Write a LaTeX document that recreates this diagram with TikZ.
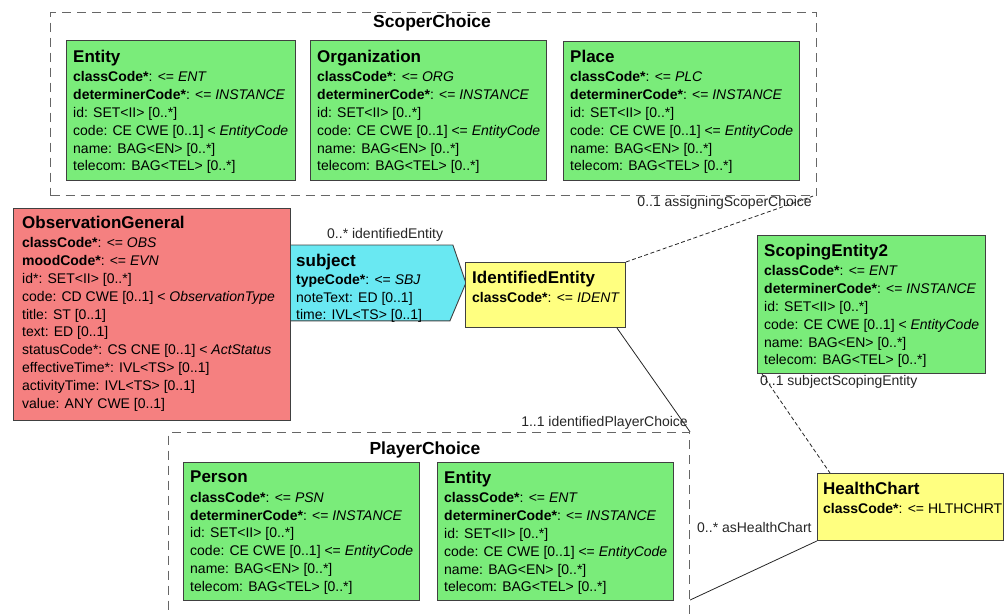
\documentclass[tikz,border=0pt]{standalone}
\usepackage{fontspec}
\setmainfont{Liberation Sans}
\usetikzlibrary{calc}
\definecolor{rimgreen}{RGB}{122,236,122}
\definecolor{rimred}{RGB}{245,128,128}
\definecolor{rimcyan}{RGB}{105,232,242}
\definecolor{rimyellow}{RGB}{255,255,128}
\newcommand{\clsname}{\fontsize{17}{20}\selectfont\bfseries}

\begin{document}
\begin{tikzpicture}[
  x=1pt, y=-1pt,
  clsbox/.style={draw=black!75, line width=0.9pt, anchor=north west, inner sep=0pt},
  entitybox/.style={clsbox, fill=rimgreen},
  actbox/.style={clsbox, fill=rimred},
  rolebox/.style={clsbox, fill=rimyellow},
  attrs/.style={anchor=north west, inner sep=0pt, align=left,
    font=\fontsize{14}{17.8}\selectfont},
  choice/.style={draw=black!60, line width=1.1pt, dash pattern=on 9pt off 6pt,
    anchor=north west, inner sep=0pt},
  choicetitle/.style={font=\fontsize{17.5}{20}\selectfont\bfseries},
  rolename/.style={font=\fontsize{14}{17}\selectfont, inner sep=0pt, text=black!85},
  assoc/.style={draw=black!85, line width=0.8pt},
  assocdash/.style={assoc, dash pattern=on 4pt off 2.5pt},
]
\useasboundingbox (0,0) rectangle (1008,613);

%% ---- ScoperChoice ----
\node[choice, minimum width=766pt, minimum height=183pt] (scoper) at (50,12) {};
\node[choicetitle] (scopertitle) at (432,23) {ScoperChoice};

\node[entitybox, minimum width=229pt, minimum height=140pt] (sentity) at (66,40) {};
\node[attrs] (sentity-t) at ($(sentity.north west)+(7,10)$) {%
  {\clsname Entity}\\[1.5pt]
  \textbf{classCode*}: <= \textit{ENT}\\
  \textbf{determinerCode*}: <= \textit{INSTANCE}\\
  id: SET<II> [0..*]\\
  code: CE CWE [0..1] < \textit{EntityCode}\\
  name: BAG<EN> [0..*]\\
  telecom: BAG<TEL> [0..*]};

\node[entitybox, minimum width=236pt, minimum height=140pt] (sorg) at (310,40) {};
\node[attrs] (sorg-t) at ($(sorg.north west)+(7,10)$) {%
  {\clsname Organization}\\[1.5pt]
  \textbf{classCode*}: <= \textit{ORG}\\
  \textbf{determinerCode*}: <= \textit{INSTANCE}\\
  id: SET<II> [0..*]\\
  code: CE CWE [0..1] <= \textit{EntityCode}\\
  name: BAG<EN> [0..*]\\
  telecom: BAG<TEL> [0..*]};

\node[entitybox, minimum width=236pt, minimum height=139pt] (splace) at (563,41) {};
\node[attrs] (splace-t) at ($(splace.north west)+(7,9)$) {%
  {\clsname Place}\\[1.5pt]
  \textbf{classCode*}: <= \textit{PLC}\\
  \textbf{determinerCode*}: <= \textit{INSTANCE}\\
  id: SET<II> [0..*]\\
  code: CE CWE [0..1] <= \textit{EntityCode}\\
  name: BAG<EN> [0..*]\\
  telecom: BAG<TEL> [0..*]};

%% ---- subject (act relationship) ----
\node[clsbox, draw=none, minimum width=175pt, minimum height=75pt] (subject) at (290,245) {};
\draw[draw=black!75, line width=0.9pt, fill=rimcyan] (subject.north west)
  -- ($(subject.north east)+(-13,0)$) -- (subject.east)
  -- ($(subject.south east)+(-16,0)$) -- (subject.south west) -- cycle;
\node[attrs] (subject-t) at ($(subject.north west)+(6,9)$) {%
  {\clsname subject}\\[0pt]
  \textbf{typeCode*}: <= \textit{SBJ}\\
  noteText: ED [0..1]\\
  time: IVL<TS> [0..1]};

%% ---- ObservationGeneral ----
\node[actbox, minimum width=277pt, minimum height=212pt] (obs) at (13,208) {};
\node[attrs] (obs-t) at ($(obs.north west)+(9,8)$) {%
  {\clsname ObservationGeneral}\\[1.5pt]
  \textbf{classCode*}: <= \textit{OBS}\\
  \textbf{moodCode*}: <= \textit{EVN}\\
  id*: SET<II> [0..*]\\
  code: CD CWE [0..1] < \textit{ObservationType}\\
  title: ST [0..1]\\
  text: ED [0..1]\\
  statusCode*: CS CNE [0..1] < \textit{ActStatus}\\
  effectiveTime*: IVL<TS> [0..1]\\
  activityTime: IVL<TS> [0..1]\\
  value: ANY CWE [0..1]};

%% ---- IdentifiedEntity ----
\node[rolebox, minimum width=160pt, minimum height=65pt] (ident) at (465,262) {};
\node[attrs] (ident-t) at ($(ident.north west)+(7,9)$) {%
  {\clsname IdentifiedEntity}\\[1.5pt]
  \textbf{classCode*}: <= \textit{IDENT}};

%% ---- ScopingEntity2 ----
\node[entitybox, minimum width=228pt, minimum height=138pt] (scoping) at (757,235) {};
\node[attrs] (scoping-t) at ($(scoping.north west)+(7,9)$) {%
  {\clsname ScopingEntity2}\\[1.5pt]
  \textbf{classCode*}: <= \textit{ENT}\\
  \textbf{determinerCode*}: <= \textit{INSTANCE}\\
  id: SET<II> [0..*]\\
  code: CE CWE [0..1] < \textit{EntityCode}\\
  name: BAG<EN> [0..*]\\
  telecom: BAG<TEL> [0..*]};

%% ---- PlayerChoice ----
\node[choice, minimum width=521pt, minimum height=200pt] (player) at (168,432) {};
\node[choicetitle] (playertitle) at (425,450) {PlayerChoice};

\node[entitybox, minimum width=236pt, minimum height=138pt] (pperson) at (183,462) {};
\node[attrs] (pperson-t) at ($(pperson.north west)+(7,9)$) {%
  {\clsname Person}\\[1.5pt]
  \textbf{classCode*}: <= \textit{PSN}\\
  \textbf{determinerCode*}: <= \textit{INSTANCE}\\
  id: SET<II> [0..*]\\
  code: CE CWE [0..1] <= \textit{EntityCode}\\
  name: BAG<EN> [0..*]\\
  telecom: BAG<TEL> [0..*]};

\node[entitybox, minimum width=236pt, minimum height=138pt] (pentity) at (437,462) {};
\node[attrs] (pentity-t) at ($(pentity.north west)+(7,9)$) {%
  {\clsname Entity}\\[1.5pt]
  \textbf{classCode*}: <= \textit{ENT}\\
  \textbf{determinerCode*}: <= \textit{INSTANCE}\\
  id: SET<II> [0..*]\\
  code: CE CWE [0..1] <= \textit{EntityCode}\\
  name: BAG<EN> [0..*]\\
  telecom: BAG<TEL> [0..*]};

%% ---- HealthChart ----
\node[rolebox, minimum width=186pt, minimum height=67pt] (health) at (817,473) {};
\node[attrs] (health-t) at ($(health.north west)+(6,9)$) {%
  {\clsname HealthChart}\\[1.5pt]
  \textbf{classCode*}: <= HLTHCHRT};

%% ---- associations ----
\draw[assocdash] (ident.north east) -- ($(scoper.south east)+(-4,0)$);
\draw[assoc] ($(ident.south east)+(-9,0)$) -- (player.north east);
\draw[assocdash] ($(scoping.south west)+(5,0)$) -- ($(health.north west)+(13,0)$);
\draw[assoc] (health.south west) -- ($(player.north east)+(0,168)$);

%% ---- role names ----
\node[rolename, anchor=east] (lscoper) at (812,203) {0..1 assigningScoperChoice};
\node[rolename, anchor=west] (lident) at (327,235) {0..* identifiedEntity};
\node[rolename, anchor=west] (lscoping) at (760,382) {0..1 subjectScopingEntity};
\node[rolename, anchor=east] (lplayer) at (688,423) {1..1 identifiedPlayerChoice};
\node[rolename, anchor=west] (lhealth) at (697,527) {0..* asHealthChart};

\end{tikzpicture}
\end{document}
